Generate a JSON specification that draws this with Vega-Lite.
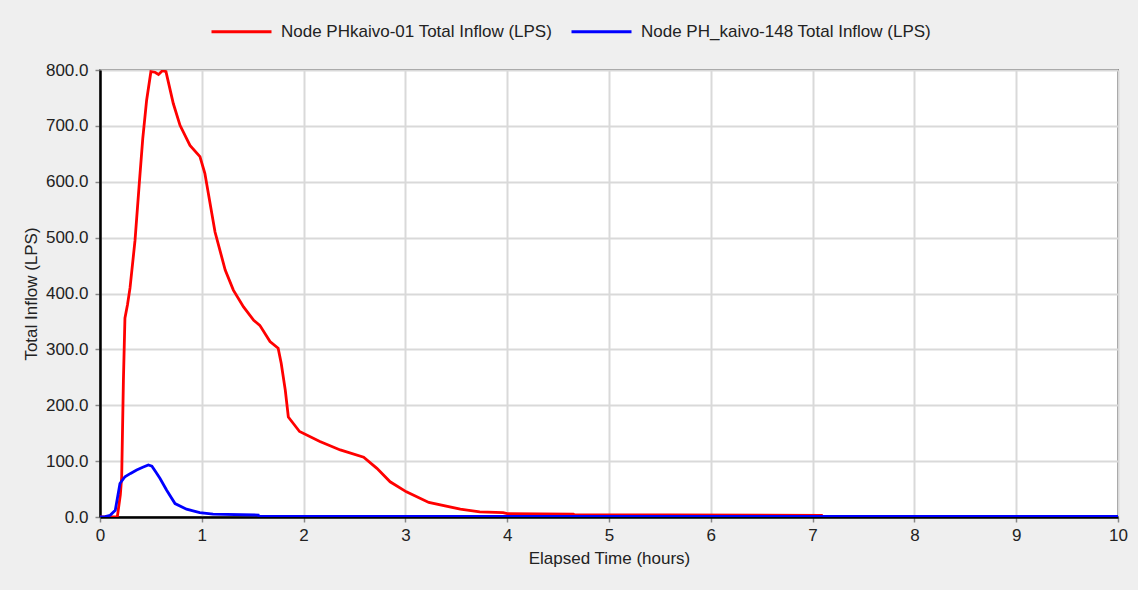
{
  "$schema": "https://vega.github.io/schema/vega-lite/v6.json",
  "width": 1018,
  "height": 447,
  "autosize": {"type": "none"},
  "padding": {"left": 100, "top": 70, "right": 20, "bottom": 73},
  "background": "#efefef",
  "config": {
    "font": "Liberation Sans",
    "view": {"stroke": "#7a7a7a", "strokeWidth": 2, "fill": "white"},
    "axis": {
      "labelFont": "Liberation Sans", "titleFont": "Liberation Sans",
      "labelFontSize": 17, "titleFontSize": 17, "titleFontWeight": "normal",
      "labelColor": "#222", "titleColor": "#222",
      "gridColor": "#d9d9d9", "gridWidth": 2, "gridOpacity": 1,
      "tickColor": "#888", "tickSize": 5, "tickWidth": 1.5,
      "domainColor": "#000", "domainWidth": 2.5, "labelFlush": false
    }
  },
  "data": {"values": [
    {"series": "Node PHkaivo-01 Total Inflow (LPS)", "t": 0, "v": 0},
    {"series": "Node PHkaivo-01 Total Inflow (LPS)", "t": 0.17, "v": 0},
    {"series": "Node PHkaivo-01 Total Inflow (LPS)", "t": 0.2, "v": 40},
    {"series": "Node PHkaivo-01 Total Inflow (LPS)", "t": 0.213, "v": 72},
    {"series": "Node PHkaivo-01 Total Inflow (LPS)", "t": 0.23, "v": 245},
    {"series": "Node PHkaivo-01 Total Inflow (LPS)", "t": 0.245, "v": 356},
    {"series": "Node PHkaivo-01 Total Inflow (LPS)", "t": 0.27, "v": 380},
    {"series": "Node PHkaivo-01 Total Inflow (LPS)", "t": 0.295, "v": 410},
    {"series": "Node PHkaivo-01 Total Inflow (LPS)", "t": 0.344, "v": 495},
    {"series": "Node PHkaivo-01 Total Inflow (LPS)", "t": 0.386, "v": 597},
    {"series": "Node PHkaivo-01 Total Inflow (LPS)", "t": 0.42, "v": 677},
    {"series": "Node PHkaivo-01 Total Inflow (LPS)", "t": 0.458, "v": 746},
    {"series": "Node PHkaivo-01 Total Inflow (LPS)", "t": 0.5, "v": 797},
    {"series": "Node PHkaivo-01 Total Inflow (LPS)", "t": 0.54, "v": 796},
    {"series": "Node PHkaivo-01 Total Inflow (LPS)", "t": 0.575, "v": 792},
    {"series": "Node PHkaivo-01 Total Inflow (LPS)", "t": 0.615, "v": 799},
    {"series": "Node PHkaivo-01 Total Inflow (LPS)", "t": 0.648, "v": 797},
    {"series": "Node PHkaivo-01 Total Inflow (LPS)", "t": 0.72, "v": 740},
    {"series": "Node PHkaivo-01 Total Inflow (LPS)", "t": 0.786, "v": 701},
    {"series": "Node PHkaivo-01 Total Inflow (LPS)", "t": 0.884, "v": 665},
    {"series": "Node PHkaivo-01 Total Inflow (LPS)", "t": 0.982, "v": 645},
    {"series": "Node PHkaivo-01 Total Inflow (LPS)", "t": 1.03, "v": 615},
    {"series": "Node PHkaivo-01 Total Inflow (LPS)", "t": 1.13, "v": 510},
    {"series": "Node PHkaivo-01 Total Inflow (LPS)", "t": 1.23, "v": 442},
    {"series": "Node PHkaivo-01 Total Inflow (LPS)", "t": 1.31, "v": 406},
    {"series": "Node PHkaivo-01 Total Inflow (LPS)", "t": 1.41, "v": 376},
    {"series": "Node PHkaivo-01 Total Inflow (LPS)", "t": 1.51, "v": 352},
    {"series": "Node PHkaivo-01 Total Inflow (LPS)", "t": 1.57, "v": 343},
    {"series": "Node PHkaivo-01 Total Inflow (LPS)", "t": 1.67, "v": 314},
    {"series": "Node PHkaivo-01 Total Inflow (LPS)", "t": 1.75, "v": 302},
    {"series": "Node PHkaivo-01 Total Inflow (LPS)", "t": 1.78, "v": 275},
    {"series": "Node PHkaivo-01 Total Inflow (LPS)", "t": 1.82, "v": 227},
    {"series": "Node PHkaivo-01 Total Inflow (LPS)", "t": 1.85, "v": 179},
    {"series": "Node PHkaivo-01 Total Inflow (LPS)", "t": 1.96, "v": 153},
    {"series": "Node PHkaivo-01 Total Inflow (LPS)", "t": 2.16, "v": 135},
    {"series": "Node PHkaivo-01 Total Inflow (LPS)", "t": 2.36, "v": 120},
    {"series": "Node PHkaivo-01 Total Inflow (LPS)", "t": 2.59, "v": 107},
    {"series": "Node PHkaivo-01 Total Inflow (LPS)", "t": 2.72, "v": 87},
    {"series": "Node PHkaivo-01 Total Inflow (LPS)", "t": 2.85, "v": 63},
    {"series": "Node PHkaivo-01 Total Inflow (LPS)", "t": 3.01, "v": 45},
    {"series": "Node PHkaivo-01 Total Inflow (LPS)", "t": 3.23, "v": 26},
    {"series": "Node PHkaivo-01 Total Inflow (LPS)", "t": 3.54, "v": 14},
    {"series": "Node PHkaivo-01 Total Inflow (LPS)", "t": 3.73, "v": 9},
    {"series": "Node PHkaivo-01 Total Inflow (LPS)", "t": 3.96, "v": 8},
    {"series": "Node PHkaivo-01 Total Inflow (LPS)", "t": 4.0, "v": 6},
    {"series": "Node PHkaivo-01 Total Inflow (LPS)", "t": 4.65, "v": 5},
    {"series": "Node PHkaivo-01 Total Inflow (LPS)", "t": 4.66, "v": 4},
    {"series": "Node PHkaivo-01 Total Inflow (LPS)", "t": 7.1, "v": 3},
    {"series": "Node PH_kaivo-148 Total Inflow (LPS)", "t": 0, "v": 0},
    {"series": "Node PH_kaivo-148 Total Inflow (LPS)", "t": 0.05, "v": 0.5},
    {"series": "Node PH_kaivo-148 Total Inflow (LPS)", "t": 0.1, "v": 3},
    {"series": "Node PH_kaivo-148 Total Inflow (LPS)", "t": 0.15, "v": 12},
    {"series": "Node PH_kaivo-148 Total Inflow (LPS)", "t": 0.196, "v": 60},
    {"series": "Node PH_kaivo-148 Total Inflow (LPS)", "t": 0.245, "v": 72},
    {"series": "Node PH_kaivo-148 Total Inflow (LPS)", "t": 0.3, "v": 78},
    {"series": "Node PH_kaivo-148 Total Inflow (LPS)", "t": 0.36, "v": 84},
    {"series": "Node PH_kaivo-148 Total Inflow (LPS)", "t": 0.42, "v": 89},
    {"series": "Node PH_kaivo-148 Total Inflow (LPS)", "t": 0.475, "v": 93},
    {"series": "Node PH_kaivo-148 Total Inflow (LPS)", "t": 0.51, "v": 91},
    {"series": "Node PH_kaivo-148 Total Inflow (LPS)", "t": 0.55, "v": 80},
    {"series": "Node PH_kaivo-148 Total Inflow (LPS)", "t": 0.59, "v": 69},
    {"series": "Node PH_kaivo-148 Total Inflow (LPS)", "t": 0.655, "v": 48},
    {"series": "Node PH_kaivo-148 Total Inflow (LPS)", "t": 0.737, "v": 24},
    {"series": "Node PH_kaivo-148 Total Inflow (LPS)", "t": 0.85, "v": 14},
    {"series": "Node PH_kaivo-148 Total Inflow (LPS)", "t": 0.98, "v": 8},
    {"series": "Node PH_kaivo-148 Total Inflow (LPS)", "t": 1.11, "v": 5},
    {"series": "Node PH_kaivo-148 Total Inflow (LPS)", "t": 1.555, "v": 3.5},
    {"series": "Node PH_kaivo-148 Total Inflow (LPS)", "t": 1.56, "v": 1},
    {"series": "Node PH_kaivo-148 Total Inflow (LPS)", "t": 10, "v": 1}
  ]},
  "mark": {"type": "line", "strokeWidth": 2.8, "clip": true},
  "encoding": {
    "x": {
      "field": "t", "type": "quantitative",
      "scale": {"domain": [0, 10], "nice": false},
      "axis": {"title": "Elapsed Time (hours)", "values": [0,1,2,3,4,5,6,7,8,9,10], "format": "d", "labelPadding": 5, "titlePadding": 7}
    },
    "y": {
      "field": "v", "type": "quantitative",
      "scale": {"domain": [0, 800], "nice": false},
      "axis": {"title": "Total Inflow (LPS)", "values": [0,100,200,300,400,500,600,700,800], "format": ".1f", "labelPadding": 7, "titlePadding": 5}
    },
    "color": {
      "field": "series", "type": "nominal",
      "sort": ["Node PHkaivo-01 Total Inflow (LPS)", "Node PH_kaivo-148 Total Inflow (LPS)"],
      "scale": {"domain": ["Node PHkaivo-01 Total Inflow (LPS)", "Node PH_kaivo-148 Total Inflow (LPS)"], "range": ["#ff0000", "#0000ff"]},
      "legend": {
        "title": null, "orient": "none", "direction": "horizontal",
        "legendX": 110, "legendY": -70,
        "symbolType": "stroke", "symbolSize": 3600, "symbolStrokeWidth": 3,
        "labelFont": "Liberation Sans", "labelFontSize": 17, "labelColor": "#222",
        "labelOffset": 8, "columnPadding": 12, "labelLimit": 400
      }
    },
    "order": {"field": "series", "sort": "descending"}
  }
}
